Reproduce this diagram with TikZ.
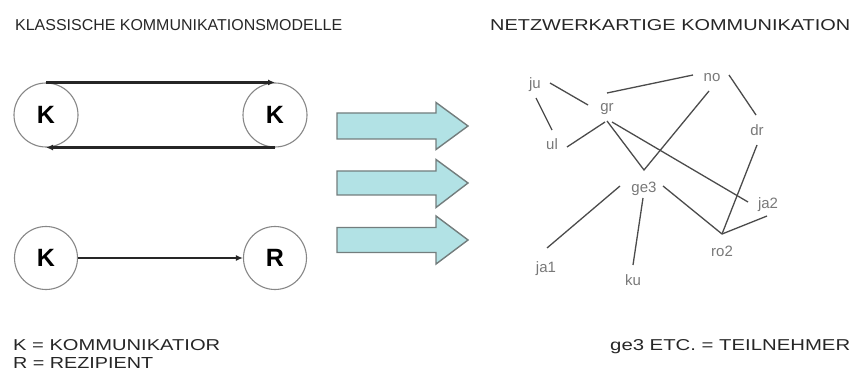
\documentclass[tikz,border=0pt]{standalone}
\usepackage{fontspec}
\setmainfont{Liberation Sans}
\usetikzlibrary{arrows.meta}
\definecolor{arrowfill}{RGB}{178,226,229}
\definecolor{arrowedge}{RGB}{115,125,125}
\definecolor{ringgray}{RGB}{135,135,135}
\definecolor{netline}{RGB}{75,75,75}
\definecolor{nettext}{RGB}{120,120,120}
% wide block arrow centred on a given height
\newcommand\fatarrow[4]{%
  \draw[fat] (337,#1-#2) -- (436,#1-#2) -- (436,#1-#3) -- (468,#1)
    -- (436,#1+#4) -- (436,#1+#2) -- (337,#1+#2) -- cycle;}
\begin{document}
\begin{tikzpicture}[x=1pt,y=-1pt,
  party/.style={circle, draw=ringgray, line width=1.1pt, minimum size=64pt,
    inner sep=0pt, font=\fontsize{25}{25}\selectfont\bfseries},
  flow/.style={draw=black!85, line width=2.3pt, -{Latex[length=7pt,width=6pt]}},
  fat/.style={fill=arrowfill, draw=arrowedge, line width=1.4pt, line join=miter},
  member/.style={inner sep=0pt, anchor=base, text=nettext,
    font=\fontsize{15}{15}\selectfont},
  tie/.style={draw=netline, line width=1.3pt},
  caption/.style={inner sep=0pt, anchor=base west, text=black!85}]
\useasboundingbox (0,0) rectangle (854,374);

% headings
\node[caption] (head1) at (15,31) {\resizebox{327pt}{11pt}{KLASSISCHE KOMMUNIKATIONSMODELLE}};
\node[caption] (head2) at (490,31) {\resizebox{360pt}{11pt}{NETZWERKARTIGE KOMMUNIKATION}};

% two-way model
\node[party] (ka) at (46,115) {K};
\node[party] (kb) at (275,115) {K};
\draw[flow] (ka.north) -- (kb.north);
\draw[flow] (kb.south) -- (ka.south);

% one-way model
\node[party, minimum size=63pt] (kc) at (46,258) {K};
\node[party, minimum size=63pt] (rz) at (275,258) {R};
\draw[flow] (kc.east) -- (rz.west);

% transition arrows
\fatarrow{126}{13}{23.5}{23.5}
\fatarrow{183}{12}{23.5}{24.5}
\fatarrow{240}{12.5}{24}{24}

% network participants
\node[member] (ju)  at (535,89)  {ju};
\node[member] (gr)  at (607,112) {gr};
\node[member] (no)  at (712,82)  {no};
\node[member] (ul)  at (552,150) {ul};
\node[member] (dr)  at (757,136) {dr};
\node[member] (ge3) at (644,193) {ge3};
\node[member] (ja2) at (768,209) {ja2};
\node[member] (ro2) at (722,257) {ro2};
\node[member] (ja1) at (546,272) {ja1};
\node[member] (ku)  at (633,285) {ku};

% line ends next to the labels
\coordinate (juR) at (550,83);   \coordinate (grL) at (588,105);
\coordinate (juB) at (536,98);   \coordinate (ulT) at (552,130);
\coordinate (grT) at (607,93);   \coordinate (noL) at (693,75);
\coordinate (noR) at (729,75);   \coordinate (drT) at (756,115);
\coordinate (ulR) at (567,147);  \coordinate (grB) at (605,122);
\coordinate (grB2) at (607,121); \coordinate (geT) at (644,170);
\coordinate (noB) at (709,91);
\coordinate (grB3) at (612,122); \coordinate (jaL) at (748,202);
\coordinate (geR) at (663,186);  \coordinate (roT) at (722,234);
\coordinate (jaB) at (767,216);  \coordinate (drB) at (757,145);
\coordinate (geL) at (620,186);  \coordinate (j1T) at (547,248);
\coordinate (geD) at (643,198);  \coordinate (kuT) at (633,265);

\draw[tie] (juR) -- (grL);
\draw[tie] (juB) -- (ulT);
\draw[tie] (grT) -- (noL);
\draw[tie] (noR) -- (drT);
\draw[tie] (ulR) -- (grB);
\draw[tie] (grB2) -- (geT) -- (noB);
\draw[tie] (grB3) -- (jaL);
\draw[tie] (geR) -- (roT) -- (jaB);
\draw[tie] (roT) -- (drB);
\draw[tie] (geL) -- (j1T);
\draw[tie] (geD) -- (kuT);

% legends
\node[caption] (leg1) at (13,350) {\resizebox{207pt}{11pt}{K = KOMMUNIKATIOR}};
\node[caption] (leg2) at (13,368) {\resizebox{140pt}{11pt}{R = REZIPIENT}};
\node[caption] (leg3) at (610,350) {\resizebox{240pt}{11pt}{ge3 ETC. = TEILNEHMER}};
\end{tikzpicture}
\end{document}
